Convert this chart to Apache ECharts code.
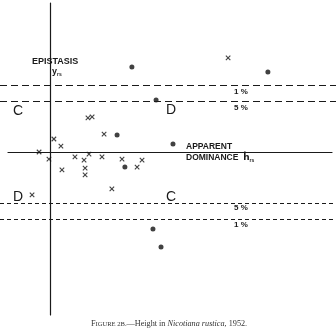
<!DOCTYPE html>
<html><head><meta charset="utf-8">
<script src="https://cdn.jsdelivr.net/npm/echarts@6/dist/echarts.min.js"></script>
<style>html,body{margin:0;padding:0;background:#fff}#c{width:336px;height:331px}</style>
</head><body><div id="c"></div>
<script>
// Apparent dominance (x) and epistasis (y), standard deviates
const crossX = [6.85, 1.46, 1.62, 2.08, 0.15, 0.42, -0.42, -0.04, 0.96, 1.31, 1.50, 2.00, 2.77, 3.54, 0.46, 1.35, 1.35, 3.35, 2.38, -0.69];
const crossY = [3.62, 1.31, 1.35, 0.69, 0.50, 0.23, 0.00, -0.27, -0.19, -0.31, -0.08, -0.19, -0.27, -0.31, -0.69, -0.62, -0.88, -0.58, -1.42, -1.65];
const dotX = [3.15, 4.08, 2.58, 2.88, 8.38, 4.73, 3.96, 4.27];
const dotY = [3.27, 2.00, 0.65, -0.58, 3.08, 0.31, -2.96, -3.65];
const sigUpper = [2.58, 1.96];
const sigLower = [-1.96, -2.58];
const xRange = [-1.615, 10.846];
const yRange = [-6.269, 5.731];

const ink = '#1a1a1a';
const chart = echarts.init(document.getElementById('c'));
const pts = (xs, ys) => xs.map((x, i) => [x, ys[i]]);
const sigLine = (v, dash) => ({ yAxis: v, lineStyle: { color: ink, width: 1, type: dash } });
const sans = '"Liberation Sans", "DejaVu Sans", sans-serif';
const serif = '"Liberation Serif", "DejaVu Serif", serif';

chart.setOption({
  animation: false,
  backgroundColor: '#fff',
  grid: [
    { left: 8, right: 4, top: 3, bottom: 16 },
    { left: 0, right: 0, top: 3, bottom: 16 }
  ],
  xAxis: [
    { type: 'value', gridIndex: 0, min: xRange[0], max: xRange[1],
      axisLine: { show: true, onZero: true, lineStyle: { color: ink, width: 1.2 } },
      axisTick: { show: false }, axisLabel: { show: false }, splitLine: { show: false } },
    { type: 'value', gridIndex: 1, min: 0, max: 1, show: false }
  ],
  yAxis: [
    { type: 'value', gridIndex: 0, min: yRange[0], max: yRange[1],
      axisLine: { show: true, onZero: true, lineStyle: { color: ink, width: 1.2 } },
      axisTick: { show: false }, axisLabel: { show: false }, splitLine: { show: false } },
    { type: 'value', gridIndex: 1, min: yRange[0], max: yRange[1], show: false }
  ],
  series: [
    { type: 'scatter', xAxisIndex: 1, yAxisIndex: 1, data: [], silent: true,
      markLine: { symbol: 'none', silent: true, label: { show: false },
        data: sigUpper.map(v => sigLine(v, [7, 4])).concat(sigLower.map(v => sigLine(v, [4, 3]))) } },
    { type: 'scatter', xAxisIndex: 0, yAxisIndex: 0, data: pts(dotX, dotY),
      symbol: 'circle', symbolSize: 5, itemStyle: { color: '#111' } },
    { type: 'scatter', xAxisIndex: 0, yAxisIndex: 0, data: pts(crossX, crossY),
      symbol: 'path://M0,0L1,1M1,0L0,1', symbolSize: 4.5,
      itemStyle: { color: 'none', borderColor: '#111', borderWidth: 1.1 } }
  ],
  graphic: [
    { type: 'text', style: { text: 'EPISTASIS', x: 32, y: 62, textVerticalAlign: 'middle', font: '600 9px ' + sans, fill: ink } },
    { type: 'text', style: { text: '{a|y}{b|rs}', x: 52, y: 72, textVerticalAlign: 'middle', fill: ink,
      rich: { a: { font: '600 9px ' + sans, fill: ink }, b: { font: '600 5px ' + sans, fill: ink, padding: [5, 0, 0, 0] } } } },
    { type: 'text', style: { text: 'C', x: 18, y: 111, textAlign: 'center', textVerticalAlign: 'middle', font: '14px ' + sans, fill: ink } },
    { type: 'text', style: { text: 'D', x: 171, y: 110, textAlign: 'center', textVerticalAlign: 'middle', font: '14px ' + sans, fill: ink } },
    { type: 'text', style: { text: 'D', x: 18, y: 197, textAlign: 'center', textVerticalAlign: 'middle', font: '14px ' + sans, fill: ink } },
    { type: 'text', style: { text: 'C', x: 171, y: 197, textAlign: 'center', textVerticalAlign: 'middle', font: '14px ' + sans, fill: ink } },
    { type: 'text', style: { text: '1 %', x: 241, y: 92, textAlign: 'center', textVerticalAlign: 'middle', font: '600 8px ' + sans, fill: ink } },
    { type: 'text', style: { text: '5 %', x: 241, y: 108, textAlign: 'center', textVerticalAlign: 'middle', font: '600 8px ' + sans, fill: ink } },
    { type: 'text', style: { text: '5 %', x: 241, y: 208, textAlign: 'center', textVerticalAlign: 'middle', font: '600 8px ' + sans, fill: ink } },
    { type: 'text', style: { text: '1 %', x: 241, y: 225, textAlign: 'center', textVerticalAlign: 'middle', font: '600 8px ' + sans, fill: ink } },
    { type: 'text', style: { text: 'APPARENT', x: 186, y: 147, textVerticalAlign: 'middle', font: '600 8.5px ' + sans, fill: ink } },
    { type: 'text', style: { text: '{a|DOMINANCE  }{h|ĥ}{b|rs}', x: 186, y: 158, textVerticalAlign: 'middle', fill: ink,
      rich: { a: { font: '600 8.5px ' + sans, fill: ink }, h: { font: '600 9px "DejaVu Sans", sans-serif', fill: ink },
        b: { font: '600 5px ' + sans, fill: ink, padding: [5, 0, 0, 0] } } } },
    { type: 'text', style: { text: '{n|F}{s|IGURE 2B.}{n|—Height in }{i|Nicotiana rustica}{n|, 1952.}', x: 169, y: 324,
      textAlign: 'center', textVerticalAlign: 'middle', fill: '#333',
      rich: {
        n: { font: '8.2px ' + serif, fill: '#333' },
        s: { font: '6.6px ' + serif, fill: '#333' },
        i: { font: 'italic 8.2px ' + serif, fill: '#333' }
      } } }
  ]
});
</script></body></html>
